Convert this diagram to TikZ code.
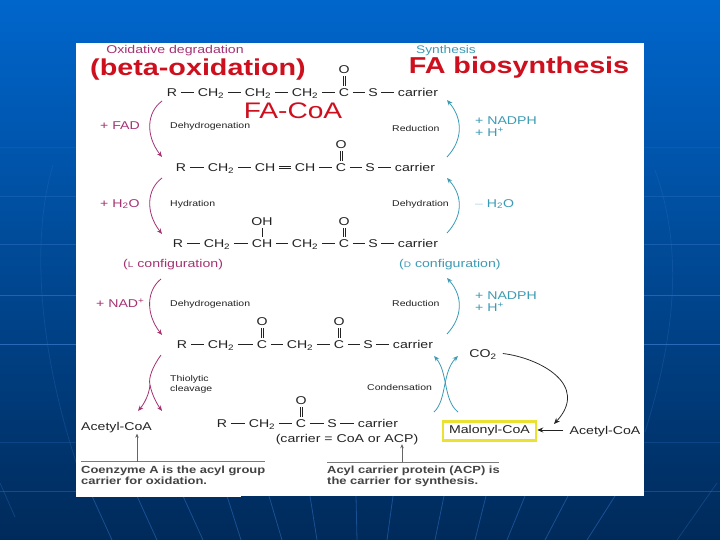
\documentclass[tikz,border=0pt]{standalone}
\usepackage{fontspec}
\setmainfont[FakeStretch=1.25]{Liberation Sans}
\usetikzlibrary{arrows.meta,calc}
\definecolor{bgtop}{RGB}{0,102,204}
\definecolor{bgmid}{RGB}{0,78,160}
\definecolor{bgbot}{RGB}{0,42,90}
\definecolor{oxi}{RGB}{165,50,115}
\definecolor{syn}{RGB}{60,155,180}
\definecolor{ink}{RGB}{35,35,35}
\definecolor{hl}{RGB}{235,225,50}
\definecolor{headred}{RGB}{205,15,30}
\definecolor{lineb}{RGB}{45,110,190}
\newcommand{\fs}[1]{\fontsize{#1}{#1}\selectfont}
\newcommand{\atm}[4]{\node[atom] (#1) at (#2,#3) {#4};}
\newcommand{\sCH}{CH\textsubscript{2}}
\newcommand{\vdbl}[2]{\draw[thinbond] ([xshift=-1.2pt]#1.south) -- ([xshift=-1.2pt]#2.north); \draw[thinbond] ([xshift=1.2pt]#1.south) -- ([xshift=1.2pt]#2.north);}
\newcommand{\hdbl}[2]{\draw[thinbond] ([yshift=1.2pt]#1.east) -- ([yshift=1.2pt]#2.west); \draw[thinbond] ([yshift=-1.2pt]#1.east) -- ([yshift=-1.2pt]#2.west);}
\tikzset{
  atom/.style={font=\fs{11.3},text=ink,inner xsep=3.5pt,inner ysep=2.5pt,text height=8pt,text depth=0pt,yshift=-.5pt},
  bond/.style={draw=ink,line width=.7pt},
  thinbond/.style={draw=ink,line width=.6pt},
  small/.style={font=\fs{8.4},text=ink,inner sep=0pt,anchor=mid west,align=left,yshift=-1pt},
  oxt/.style={font=\fs{11.3},text=oxi,inner sep=0pt,anchor=mid west,yshift=-1.5pt},
  synt/.style={font=\fs{11.3},text=syn,inner sep=0pt,anchor=mid west,yshift=-1.5pt},
  oxa/.style={draw=oxi,line width=.8pt,-{Stealth[length=5.5pt,width=4.5pt]}},
  syna/.style={draw=syn,line width=.8pt,-{Stealth[length=5.5pt,width=4.5pt]}},
  note/.style={font=\bfseries\fs{10.35},text=ink!85,inner sep=0pt,anchor=mid west},
  rulel/.style={draw=ink!60,line width=.5pt},
  head/.style={font=\bfseries\fs{23},text=headred,inner sep=0pt},
  bgl/.style={draw=lineb,line width=.8pt,line cap=round}
}
\begin{document}
\begin{tikzpicture}[x=1pt,y=-1pt]
\useasboundingbox (0,0) rectangle (720,540);
% background
\shade[top color=bgtop,middle color=bgmid,bottom color=bgbot] (0,0) rectangle (720,540);
\foreach \y/\o in {147/.25,196/.4,244/.55,295/.75,344/.9,442/.3,491/.45}
  \draw[bgl,opacity=\o] (0,\y) -- (720,\y);
\draw[bgl,opacity=.3] (53,165) .. controls (33,230) and (35,340) .. (78,468);
\draw[bgl,opacity=.3] (655,170) .. controls (680,240) and (680,320) .. (645,432);
\foreach \a/\b in {92/112,137/157,183/203,227/241,269/282,310/317,356/357,393/387,444/435,486/475,525/507,568/545,615/587}
  \draw[bgl,opacity=.55] (\a,496) -- (\b,540);
\draw[bgl,opacity=.35] (0,483) -- (15,517);
\draw[bgl,opacity=.35] (717,483) -- (677,540);
% panel
\fill[white] (76,43) rectangle (644,496);
\fill[white] (76,490) rectangle (241,497);
% headings
\node[font=\fs{11.3},text=oxi,inner sep=0pt] (oxtitle) at (175,50.5) {Oxidative degradation};
\node[font=\fs{11},text=syn,inner sep=0pt] (syntitle) at (446,50.5) {Synthesis};
\node[head] (beta) at (198,70) {(beta-oxidation)};
\node[head] (fabio) at (519,67.5) {FA biosynthesis};
\node[font=\fs{22.5},text=headred,inner sep=0pt] (facoa) at (293,111) {FA-CoA};
% row 1
\atm{a1}{172}{92}{R}\atm{a2}{211}{92}{\sCH}\atm{a3}{258}{92}{\sCH}\atm{a4}{305}{92}{\sCH}
\atm{a5}{344}{92}{C}\atm{a6}{373}{92}{S}\atm{a7}{418}{92}{carrier}\atm{ao}{344}{69}{O}
\draw[bond] (a1)--(a2); \draw[bond] (a2)--(a3); \draw[bond] (a3)--(a4); \draw[bond] (a4)--(a5); \draw[bond] (a5)--(a6); \draw[bond] (a6)--(a7);
\vdbl{ao}{a5}
% row 2
\atm{b1}{181}{167}{R}\atm{b2}{221}{167}{\sCH}\atm{b3}{265}{167}{CH}\atm{b4}{305}{167}{CH}
\atm{b5}{341}{167}{C}\atm{b6}{370}{167}{S}\atm{b7}{415}{167}{carrier}\atm{bo}{341}{144}{O}
\draw[bond] (b1)--(b2); \draw[bond] (b2)--(b3); \hdbl{b3}{b4} \draw[bond] (b4)--(b5); \draw[bond] (b5)--(b6); \draw[bond] (b6)--(b7);
\vdbl{bo}{b5}
% row 3
\atm{c1}{178}{243}{R}\atm{c2}{217}{243}{\sCH}\atm{c3}{262}{243}{CH}\atm{c4}{305}{243}{\sCH}
\atm{c5}{344}{243}{C}\atm{c6}{373}{243}{S}\atm{c7}{418}{243}{carrier}\atm{co}{344}{221}{O}\atm{coh}{262}{221}{OH}
\draw[bond] (c1)--(c2); \draw[bond] (c2)--(c3); \draw[bond] (c3)--(c4); \draw[bond] (c4)--(c5); \draw[bond] (c5)--(c6); \draw[bond] (c6)--(c7);
\vdbl{co}{c5} \draw[bond] (coh)--(c3);
% row 4
\atm{d1}{182}{344}{R}\atm{d2}{221}{344}{\sCH}\atm{d3}{262}{344}{C}\atm{d4}{300}{344}{\sCH}
\atm{d5}{339}{344}{C}\atm{d6}{368}{344}{S}\atm{d7}{413}{344}{carrier}\atm{do}{339}{321}{O}\atm{dp}{262}{321}{O}
\draw[bond] (d1)--(d2); \draw[bond] (d2)--(d3); \draw[bond] (d3)--(d4); \draw[bond] (d4)--(d5); \draw[bond] (d5)--(d6); \draw[bond] (d6)--(d7);
\vdbl{do}{d5} \vdbl{dp}{d3}
% row 5
\atm{e1}{222}{423}{R}\atm{e2}{262}{423}{\sCH}\atm{e3}{301}{423}{C}\atm{e4}{332}{423}{S}\atm{e5}{378}{423}{carrier}\atm{eo}{301}{400}{O}
\draw[bond] (e1)--(e2); \draw[bond] (e2)--(e3); \draw[bond] (e3)--(e4); \draw[bond] (e4)--(e5);
\vdbl{eo}{e3}
\node[atom,inner xsep=1pt,inner ysep=1.5pt] (carriernote) at (347,438) {(carrier = CoA or ACP)};
% left labels
\node[oxt] (lfad) at (100,125) {+ FAD};
\node[oxt] (lh2o) at (100,203) {+ H\textsubscript{2}O};
\node[oxt] (lnad) at (96,303) {+ NAD\textsuperscript{+}};
\node[oxt] (lcfg) at (123,263) {({\fs{8}L} configuration)};
\node[small] (t1) at (170,125) {Dehydrogenation};
\node[small] (t2) at (170,203) {Hydration};
\node[small] (t3) at (170,303) {Dehydrogenation};
\node[small,anchor=north west] (t4) at (170,374.5) {Thiolytic\\[1.6pt]cleavage};
% right labels
\node[small] (r1) at (392,128) {Reduction};
\node[small] (r2) at (392,203) {Dehydration};
\node[small] (r3) at (392,303) {Reduction};
\node[small] (r4) at (367,387) {Condensation};
\node[synt] (n1) at (475,120) {+ NADPH};
\node[synt] (n2) at (475,132.5) {+ H\textsuperscript{+}};
\node[synt] (n3) at (475,203) {{\color{syn!40}–} H\textsubscript{2}O};
\node[synt] (n4) at (475,295) {+ NADPH};
\node[synt] (n5) at (475,307.5) {+ H\textsuperscript{+}};
\node[synt] (rcfg) at (399,263) {({\fs{8}D} configuration)};
% left arrows
\coordinate (o1s) at (162,101); \coordinate (o1e) at (162,157);
\coordinate (o2s) at (162,178); \coordinate (o2e) at (162,234);
\coordinate (o3s) at (161,279); \coordinate (o3e) at (162,335);
\coordinate (o4s) at (161,355); \coordinate (o4l) at (138,411); \coordinate (o4r) at (162,411);
\coordinate (o4m) at (150,385);
\draw[oxa] (o1s) .. controls (147,112) and (145,135) .. (o1e);
\draw[oxa] (o2s) .. controls (147,189) and (145,212) .. (o2e);
\draw[oxa] (o3s) .. controls (147,290) and (145,313) .. (o3e);
\draw[oxa] (o4s) .. controls (153,366) and (148,378) .. (o4m) .. controls (152,395) and (157,404) .. (o4r);
\draw[oxa] (o4m) .. controls (149,395) and (144,404) .. (o4l);
% right arrows
\coordinate (s1s) at (447,157); \coordinate (s1e) at (447,100);
\coordinate (s2s) at (447,233); \coordinate (s2e) at (447,178);
\coordinate (s3s) at (447,334); \coordinate (s3e) at (447,278);
\coordinate (s4a) at (434,412); \coordinate (s4b) at (458,356);
\coordinate (s4c) at (458,412); \coordinate (s4d) at (434,356);
\draw[syna] (s1s) .. controls (462,141) and (464,120) .. (s1e);
\draw[syna] (s2s) .. controls (462,217) and (464,197) .. (s2e);
\draw[syna] (s3s) .. controls (462,318) and (464,297) .. (s3e);
\draw[syna] (s4a) .. controls (447,400) and (442,372) .. (s4b);
\draw[syna] (s4c) .. controls (443,400) and (448,372) .. (s4d);
% malonyl part
\node[draw=hl,line width=2.5pt,minimum width=93pt,minimum height=19pt,inner sep=0pt,font=\fs{11.3},text=ink] (malonyl) at (489.5,431) {\raisebox{1.5pt}{Malonyl-CoA}};
\node[atom,inner xsep=6pt] (acr) at (605,429.5) {Acetyl-CoA};
\node[atom,inner xsep=6pt] (co2) at (483,353) {CO\textsubscript{2}};
\node[atom,inner xsep=0pt,inner ysep=3pt] (acl) at (116.5,426) {Acetyl-CoA};
\coordinate (mj) at (554,424);
\draw[ink,line width=.75pt,-{Stealth[length=6pt,width=5pt]}] (acr.west) -- (acr.west -| malonyl.east);
\draw[ink,line width=.75pt,-{Stealth[length=6pt,width=5pt]}] (co2.east) .. controls (540,358) and (590,385) .. (mj);
% notes
\coordinate (rla) at (81,461.5); \coordinate (rlb) at (265,461.5); \coordinate (rlu) at (137,461.5);
\coordinate (rra) at (327,462); \coordinate (rrb) at (499,462); \coordinate (rru) at (402,462);
\draw[rulel] (rla) -- (rlb);
\draw[rulel] (rra) -- (rrb);
\draw[ink!70,line width=.5pt,-{Stealth[length=4pt,width=3.5pt]}] (rlu) -- (rlu |- acl.south);
\draw[ink!70,line width=.7pt,-{Stealth[length=4pt,width=3.5pt]}] (rru) -- (rru |- carriernote.south);
\node[note] (nl1) at (81,471) {Coenzyme A is the acyl group};
\node[note] (nl2) at (81,482) {carrier for oxidation.};
\node[note] (nr1) at (327,471) {Acyl carrier protein (ACP) is};
\node[note] (nr2) at (327,482) {the carrier for synthesis.};
\end{tikzpicture}
\end{document}
